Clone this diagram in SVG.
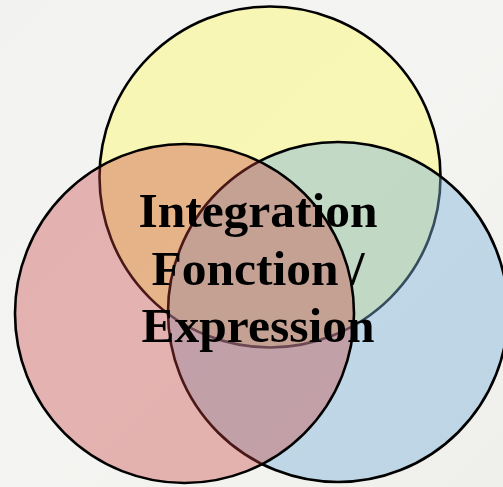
<svg xmlns="http://www.w3.org/2000/svg" width="503" height="487" viewBox="0 0 503 487">
  <defs>
    <linearGradient id="bg" x1="0" y1="0" x2="1" y2="1">
      <stop offset="0" stop-color="#f2f2f0"/>
      <stop offset="0.5" stop-color="#f4f4f2"/>
      <stop offset="1" stop-color="#efefeb"/>
    </linearGradient>
  </defs>
  <style>
    .c { stroke: #000; stroke-width: 2.6; }
    .yellow { fill: #fcfa64; fill-opacity: 0.43; }
    .blue { fill: #7cb2d9; fill-opacity: 0.43; }
    .red { fill: #c8413e; fill-opacity: 0.37; }
    .lbl { font-family: "Liberation Serif", "Times New Roman", serif; font-weight: bold; font-size: 49.5px; fill: #000; text-anchor: middle; }
  </style>
  <rect x="0" y="0" width="503" height="487" fill="url(#bg)"/>
  <g id="circle-yellow">
    <circle class="c yellow" cx="270" cy="177" r="170.5"/>
  </g>
  <g id="circle-blue">
    <circle class="c blue" cx="338" cy="312" r="170"/>
  </g>
  <g id="circle-red">
    <circle class="c red" cx="184.5" cy="313.5" r="169.5"/>
  </g>
  <g id="label">
    <text class="lbl" x="258" y="227">Integration</text>
    <text class="lbl" x="258" y="284.5">Fonction /</text>
    <text class="lbl" x="258" y="342">Expression</text>
  </g>
</svg>
